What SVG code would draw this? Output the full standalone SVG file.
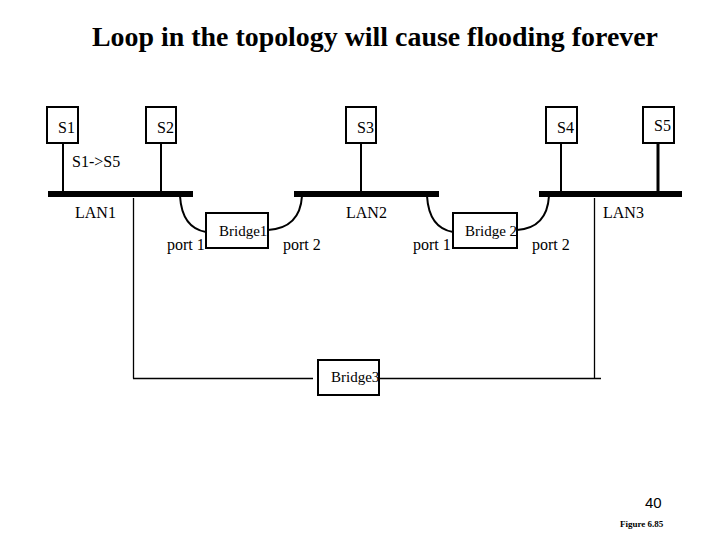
<svg xmlns="http://www.w3.org/2000/svg" width="720" height="540" viewBox="0 0 720 540">
<style>
.t{font-family:"Liberation Serif","Times New Roman",serif;font-size:16px;fill:#000}
.b{font-family:"Liberation Serif","Times New Roman",serif;font-size:15px;fill:#000}
.box{fill:#fff;stroke:#000;stroke-width:2}
.lan{stroke:#000;stroke-width:6}
.ln{stroke:#000;stroke-width:2;fill:none}
.thin{stroke:#000;stroke-width:1.3;fill:none}
</style>
<rect width="720" height="540" fill="#fff"/>
<text x="375" y="46" text-anchor="middle" textLength="566" lengthAdjust="spacingAndGlyphs" style="font-family:'Liberation Serif','Times New Roman',serif;font-size:27px;font-weight:bold">Loop in the topology will cause flooding forever</text>
<g id="connectors">
<line class="ln" x1="63" y1="143" x2="63" y2="194"/>
<line class="ln" x1="161" y1="143" x2="161" y2="194"/>
<line class="ln" x1="361" y1="143" x2="361" y2="194"/>
<line class="ln" x1="561" y1="143" x2="561" y2="194"/>
<line x1="658" y1="143" x2="658" y2="194" stroke="#000" stroke-width="3"/>
<path class="ln" d="M180 196 Q182 228 206 232"/>
<path class="ln" d="M302 196 Q300 228 268 230"/>
<path class="ln" d="M427 196 Q429 228 453 232"/>
<path class="ln" d="M549 196 Q547 228 517 230"/>
<line class="thin" x1="133.5" y1="198" x2="133.5" y2="378.5"/>
<line class="thin" x1="594.5" y1="198" x2="594.5" y2="378.5"/>
<line class="thin" x1="133" y1="378.5" x2="313" y2="378.5"/>
<line class="thin" x1="379" y1="378.5" x2="601" y2="378.5"/>
</g>
<g id="LAN1"><line class="lan" x1="48" y1="194" x2="193" y2="194"/><text class="t" x="75" y="218">LAN1</text></g>
<g id="LAN2"><line class="lan" x1="294" y1="194" x2="439" y2="194"/><text class="t" x="346" y="218">LAN2</text></g>
<g id="LAN3"><line class="lan" x1="539" y1="194" x2="682" y2="194"/><text class="t" x="603" y="218">LAN3</text></g>
<g id="S1"><rect class="box" x="47" y="107" width="31" height="36"/><text class="t" x="58" y="133">S1</text></g>
<g id="S2"><rect class="box" x="146" y="107" width="30" height="36"/><text class="t" x="157" y="133">S2</text></g>
<g id="S3"><rect class="box" x="346" y="107" width="30" height="36"/><text class="t" x="357" y="133">S3</text></g>
<g id="S4"><rect class="box" x="546" y="107" width="31" height="36"/><text class="t" x="557" y="133">S4</text></g>
<g id="S5"><rect class="box" x="643" y="107" width="31" height="36"/><text class="t" x="654" y="131">S5</text></g>
<text class="t" x="72" y="167">S1-&gt;S5</text>
<g id="Bridge1"><rect class="box" x="206" y="213" width="62" height="35"/><text class="b" x="219" y="236">Bridge1</text></g>
<g id="Bridge2"><rect class="box" x="453" y="213" width="64" height="35"/><text class="b" x="465" y="236">Bridge 2</text></g>
<g id="Bridge3"><rect class="box" x="318" y="360" width="61" height="35"/><text class="b" x="331" y="382">Bridge3</text></g>
<text class="t" x="167" y="250">port 1</text>
<text class="t" x="283" y="250">port 2</text>
<text class="t" x="413" y="250">port 1</text>
<text class="t" x="532" y="250">port 2</text>
<text x="645" y="508" style="font-family:'Liberation Sans',Arial,sans-serif;font-size:15px">40</text>
<text x="620" y="527" style="font-family:'Liberation Serif','Times New Roman',serif;font-size:9px;font-weight:bold">Figure 6.85</text>
</svg>
